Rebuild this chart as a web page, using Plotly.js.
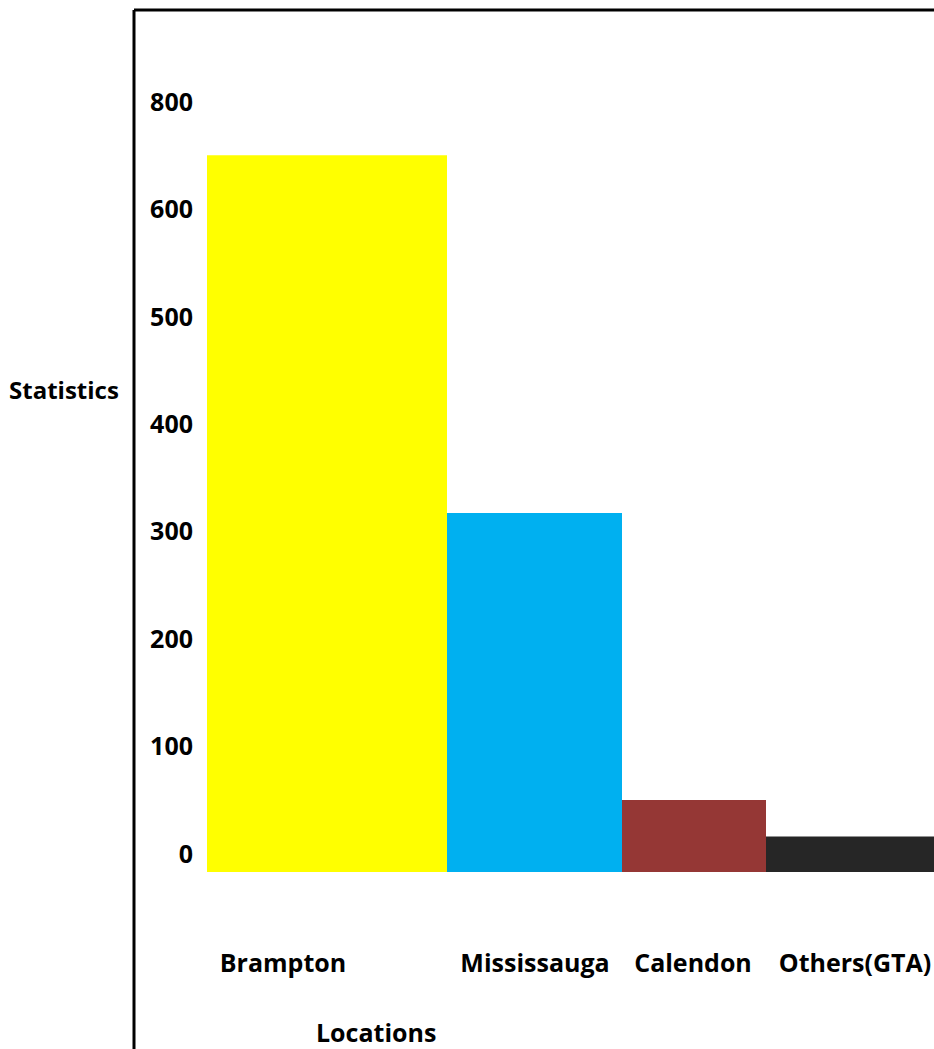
<!DOCTYPE html>
<html>
<head>
<meta charset="utf-8">
<script src="https://cdn.plot.ly/plotly-3.0.1.min.js"></script>
<style>html,body{margin:0;padding:0;background:#fff;}#chart{width:934px;height:1049px;}</style>
</head>
<body>
<div id="chart"></div>
<script>
// ---- data ----
const categories = ["Brampton", "Mississauga", "Calendon", "Others(GTA)"];
const values = [667, 334, 67, 33];
const yTickValues = [0, 100, 200, 300, 400, 500, 600, 700];
const yTickLabels = ["0", "100", "200", "300", "400", "500", "600", "800"];
const xTitle = "Locations";
const yTitle = "Statistics";

// ---- layout / style ----
const W = 934, H = 1049;
const M = {l: 196, r: 0, t: 10, b: 177};
const plotW = W - M.l - M.r, plotH = H - M.t - M.b;
const colors = ["#FFFF00", "#00B0F0", "#953735", "#262626"];
const barEdges = [207, 447, 622, 766, 934];       // horizontal layout of bars (x-axis units)
const labelCenters = [283, 535, 693, 855];         // category label placement
const pxPer100 = 107.45;
const yMax = (plotH) / pxPer100 * 100;

const px2paperX = p => (p - M.l) / plotW;
const px2paperY = p => (H - M.b - p) / plotH;

const font = {family: "'Open Sans', Lato, sans-serif", size: 25, color: "#000", weight: 700};

const traces = categories.map((c, i) => ({
  type: "bar",
  name: c,
  x: [(barEdges[i] + barEdges[i + 1]) / 2],
  y: [values[i]],
  width: [barEdges[i + 1] - barEdges[i]],
  marker: {color: colors[i], line: {width: 0}},
  hoverinfo: "y+name",
  showlegend: false
}));

const layout = {
  width: W, height: H,
  margin: M,
  paper_bgcolor: "#fff", plot_bgcolor: "#fff",
  font: font,
  showlegend: false,
  barmode: "overlay",
  xaxis: {
    range: [M.l, W - M.r],
    tickmode: "array",
    tickvals: labelCenters,
    ticktext: categories,
    ticks: "", showgrid: false, zeroline: false, showline: false,
    ticklabelstandoff: 74,
    tickfont: font
  },
  yaxis: {
    range: [0, yMax],
    tickmode: "array",
    tickvals: yTickValues,
    ticktext: yTickLabels,
    ticks: "", showgrid: false, zeroline: false, showline: false,
    ticklabelshift: -18,
    ticklabelstandoff: 2,
    tickfont: font
  },
  shapes: [
    {type: "line", xref: "paper", yref: "paper",
     x0: px2paperX(134), x1: px2paperX(W + 5), y0: px2paperY(10), y1: px2paperY(10),
     line: {color: "#000", width: 3}},
    {type: "line", xref: "paper", yref: "paper",
     x0: px2paperX(134), x1: px2paperX(134), y0: px2paperY(10), y1: px2paperY(H + 5),
     line: {color: "#000", width: 3}}
  ],
  annotations: [
    {text: yTitle, xref: "paper", yref: "paper", x: px2paperX(64), y: px2paperY(389),
     xanchor: "center", yanchor: "middle", showarrow: false,
     font: Object.assign({}, font, {size: 24})},
    {text: xTitle, xref: "paper", yref: "paper", x: px2paperX(376), y: px2paperY(1032),
     xanchor: "center", yanchor: "middle", showarrow: false, font: font}
  ]
};

Plotly.newPlot("chart", traces, layout, {displayModeBar: false, staticPlot: true});
</script>
</body>
</html>
